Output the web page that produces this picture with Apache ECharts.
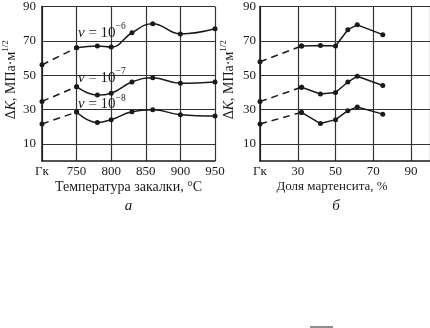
<!DOCTYPE html>
<html>
<head>
<meta charset="utf-8">
<script src="https://cdn.jsdelivr.net/npm/echarts@6/dist/echarts.min.js"></script>
<style>
  html, body { margin: 0; padding: 0; background: #fff; }
  #chart { width: 430px; height: 328px; }
</style>
</head>
<body>
<div id="chart"></div>
<script>
// Panel "а": threshold ΔK vs. quench temperature, °C.
// The first x position (700) stands for the initial state "Гк".
const tempGk = 700;
const tempX = [750, 780, 800, 830, 860, 900, 950];
const tempGkV6 = 56, tempGkV7 = 34.7, tempGkV8 = 21.6;
const tempV6 = [66, 67, 66.4, 74.7, 80, 74, 77];
const tempV7 = [43.3, 38.4, 39.5, 46, 48.5, 45.3, 46];
const tempV8 = [28.5, 22.4, 24.1, 28.7, 29.8, 27, 26.2];

// Panel "б": threshold ΔK vs. martensite fraction, %.
// The first x position (10) stands for "Гк".
const martGk = 10;
const martX = [32, 42, 50, 56.5, 61.5, 75];
const martGkV6 = 57.8, martGkV7 = 34.6, martGkV8 = 21.6;
const martV6 = [67, 67.3, 67, 76.5, 79.3, 73.6];
const martV7 = [43, 39, 39.9, 46, 49.4, 44];
const martV8 = [28.3, 21.8, 24.1, 29.3, 31.5, 27.3];

// Tick labels
const yTicks = [10, 30, 50, 70, 90];
const gkLabel = 'Гк';

// Crack-growth rate captions and where they sit on panel "а" (data units)
const rateExps = ['−6', '−7', '−8'];
const rateAnchors = [[752, 74.8], [752, 48.6], [752, 33.2]];

const SERIF = "'Liberation Serif', 'DejaVu Serif', serif";
const INK = '#1a1a1a';
const GRID_INK = '#333333';

function pairs(xs, ys) { return xs.map((x, i) => [x, ys[i]]); }

function curve(idx, xs, ys, smooth) {
  return {
    type: 'line', xAxisIndex: idx, yAxisIndex: idx,
    data: pairs(xs, ys), smooth: smooth,
    symbol: 'circle', symbolSize: 5,
    itemStyle: { color: INK },
    lineStyle: { color: INK, width: 1.5 },
    animation: false, silent: true
  };
}
function dashed(idx, x0, y0, x1, y1) {
  return {
    type: 'line', xAxisIndex: idx, yAxisIndex: idx,
    data: [[x0, y0], [x1, y1]],
    symbol: 'circle', symbolSize: 5,
    itemStyle: { color: INK },
    lineStyle: { color: INK, width: 1.5, type: [7, 5] },
    animation: false, silent: true
  };
}

const labelFont = { fontFamily: SERIF, fontSize: 13, color: INK };

function yAxis(idx, margin) {
  return {
    type: 'value', gridIndex: idx, min: 0, max: 90,
    name: '{n|Δ}{k|K}{n|, МПа·м}{s|1/2}',
    nameLocation: 'middle', nameRotate: 90, nameGap: 21,
    nameTextStyle: {
      fontFamily: SERIF, color: INK, padding: [0, 0, 0, 8],
      rich: {
        n: { fontFamily: SERIF, fontSize: 14, color: INK, lineHeight: 20 },
        k: { fontFamily: SERIF, fontSize: 14, color: INK, fontStyle: 'italic', lineHeight: 20 },
        s: { fontFamily: SERIF, fontSize: 9, color: INK, verticalAlign: 'top', lineHeight: 10 }
      }
    },
    axisLine: { show: true, lineStyle: { color: INK, width: 1.5 } },
    axisTick: { show: false, customValues: yTicks },
    axisLabel: { customValues: yTicks, margin: margin, ...labelFont },
    splitLine: { show: true, customValues: yTicks, lineStyle: { color: GRID_INK, width: 1.2 } }
  };
}

function xAxis(idx, min, max, interval, name, hideMax, nameStyle) {
  return {
    type: 'value', gridIndex: idx, min: min, max: max, interval: interval,
    name: name, nameLocation: 'middle', nameGap: 19,
    nameTextStyle: { fontFamily: SERIF, fontSize: 14, color: INK, ...nameStyle },
    axisLine: { show: true, onZero: false, lineStyle: { color: INK, width: 1.5 } },
    axisTick: { show: false },
    axisLabel: {
      margin: 4, ...labelFont, showMaxLabel: !hideMax,
      formatter: v => (v === min ? gkLabel : (hideMax && v === max ? '' : String(v)))
    },
    splitLine: { show: true, lineStyle: { color: GRID_INK, width: 1.2 } }
  };
}

const chart = echarts.init(document.getElementById('chart'), null, { renderer: 'canvas' });

chart.setOption({
  backgroundColor: '#fff',
  animation: false,
  grid: [
    { left: 39, top: 3, width: 176, height: 158 },
    { left: 260, top: 3, width: 172, height: 158 }
  ],
  xAxis: [
    xAxis(0, tempGk, 950, 50, 'Температура закалки, °С', false, {}),
    xAxis(1, martGk, 100, 20, 'Доля мартенсита, %', true, { fontSize: 13, padding: [0, 26, 0, 0] })
  ],
  yAxis: [yAxis(0, 6), yAxis(1, 4)],
  series: [
    dashed(0, tempGk, tempGkV6, tempX[0], tempV6[0]),
    dashed(0, tempGk, tempGkV7, tempX[0], tempV7[0]),
    dashed(0, tempGk, tempGkV8, tempX[0], tempV8[0]),
    curve(0, tempX, tempV6, 0.45),
    curve(0, tempX, tempV7, 0.45),
    curve(0, tempX, tempV8, 0.45),
    dashed(1, martGk, martGkV6, martX[0], martV6[0]),
    dashed(1, martGk, martGkV7, martX[0], martV7[0]),
    dashed(1, martGk, martGkV8, martX[0], martV8[0]),
    curve(1, martX, martV6, false),
    curve(1, martX, martV7, false),
    curve(1, martX, martV8, false)
  ]
});

// Captions: rate labels on panel "а", panel letters under each plot
const graphics = rateAnchors.map((a, i) => {
  const p = chart.convertToPixel({ gridIndex: 0 }, a);
  return {
    type: 'text', x: p[0], y: p[1],
    style: {
      text: '{i|ν}{n| = 10}{s|' + rateExps[i] + '}',
      verticalAlign: 'middle', align: 'left',
      rich: {
        i: { fontFamily: SERIF, fontSize: 15, fontStyle: 'italic', fill: INK, lineHeight: 22 },
        n: { fontFamily: SERIF, fontSize: 15, fill: INK, lineHeight: 22 },
        s: { fontFamily: SERIF, fontSize: 9.5, fill: INK, verticalAlign: 'top', lineHeight: 10 }
      }
    }
  };
});
['а', 'б'].forEach((letter, i) => {
  const left = chart.convertToPixel({ gridIndex: i }, [i === 0 ? tempGk : martGk, 0]);
  const right = chart.convertToPixel({ gridIndex: i }, [i === 0 ? 950 : 100, 0]);
  graphics.push({
    type: 'text', x: (left[0] + right[0]) / 2 - (i === 1 ? 9 : 0), y: 206,
    style: {
      text: letter, fontFamily: SERIF, fontSize: 15, fontStyle: 'italic',
      fill: INK, align: 'center', verticalAlign: 'middle'
    }
  });
});
// short rule at the foot of the page
graphics.push({
  type: 'line', shape: { x1: 310, y1: 327, x2: 333, y2: 327 },
  style: { stroke: INK, lineWidth: 1 }
});
chart.setOption({ graphic: graphics });
</script>
</body>
</html>
